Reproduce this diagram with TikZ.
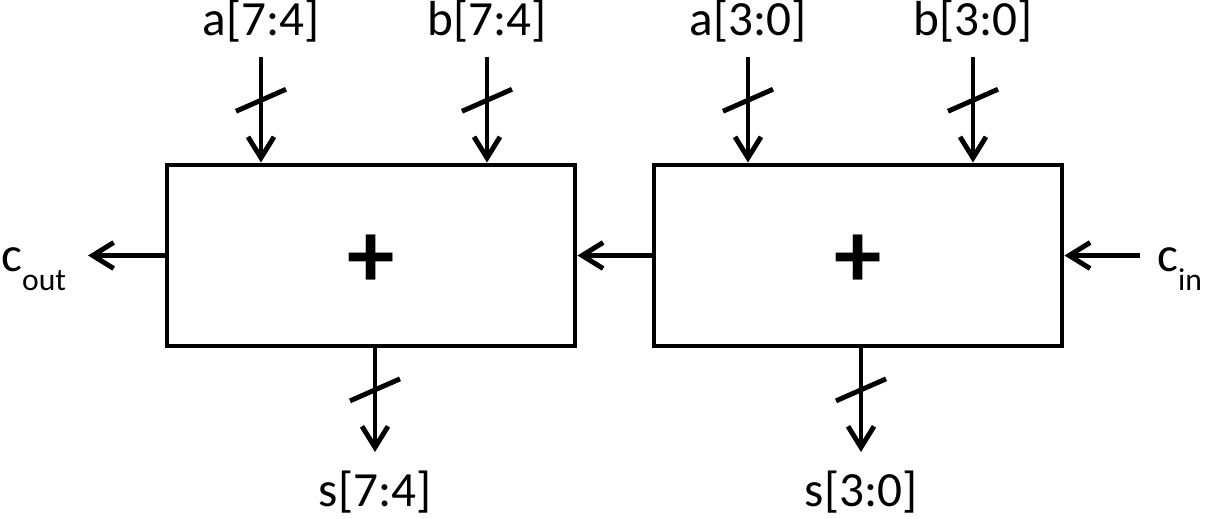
\documentclass[tikz,border=0pt]{standalone}
\usepackage{fontspec}
\setmainfont{Carlito}
\usetikzlibrary{arrows.meta,calc}
\newcommand{\subtxt}[1]{\raisebox{-.38em}{\fontsize{18}{20}\selectfont #1}}

\begin{document}
\begin{tikzpicture}[x=.2mm,y=-.2mm,font=\fontsize{28}{32}\selectfont,
  wire/.style={line width=2.8pt,-{Straight Barb[length=4.2mm,width=5.2mm]}},
  adder/.style={draw,line width=2.8pt,minimum width=81.6mm,minimum height=36.2mm,inner sep=0pt},
  busmark/.style={line width=2.8pt},
  plus/.style={font=\fontsize{54}{56}\selectfont\bfseries,inner sep=0pt,yshift=-1.2mm}]
\path[use as bounding box] (0,0) rectangle (1208,519);
% the two 4-bit adders
\node[adder] (add74) at (371,255.5) {};
\node[adder] (add30) at (858,255.5) {};
\node[plus] (p74) at (add74.center) {+};
\node[plus] (p30) at (add30.center) {+};
% operand inputs with bus marks
\foreach \x/\name/\txt/\blk in {261/a74/a[7:4]/add74,487/b74/b[7:4]/add74,
                                748/a30/a[3:0]/add30,973/b30/b[3:0]/add30}{
  \node[anchor=base] (l\name) at (\x,36) {\txt};
  \coordinate (\name) at (\x,57);
  \draw[wire] (\name) -- (\name|-\blk.north);
  \draw[busmark] ($(\name)!.41!(\name|-\blk.north)$) ++(-25,11) -- ++(50,-22);
}
% sum outputs
\foreach \x/\name/\txt/\blk in {375/s74/s[7:4]/add74,861/s30/s[3:0]/add30}{
  \coordinate (\name) at (\x,452);
  \node[anchor=base] (l\name) at (\x,506) {\txt};
  \draw[wire] (\name|-\blk.south) -- (\name);
  \draw[busmark] ($(\name|-\blk.south)!.4!(\name)$) ++(-25,11) -- ++(50,-22);
}
% carries
\node[anchor=base west,inner sep=0pt] (lcout) at (1,272) {c\subtxt{out}};
\node[anchor=base west,inner sep=0pt] (lcin) at (1157,272) {c\subtxt{in}};
\coordinate (cout) at (88,255.5);
\coordinate (cin) at (1140,255.5);
\draw[wire] (add74.west) -- (cout);
\draw[wire] (add30.west) -- (add74.east);
\draw[wire] (cin) -- (add30.east);
\end{tikzpicture}
\end{document}
